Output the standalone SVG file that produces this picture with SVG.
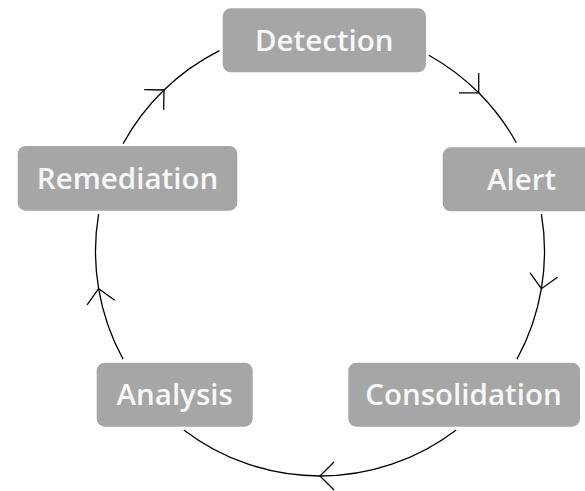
<svg xmlns="http://www.w3.org/2000/svg" width="585" height="491" viewBox="0 0 585 491">
<style>
.box{fill:#a6a6a6;}
.lbl{fill:#f7f7f7;font-family:"Open Sans","Noto Sans",sans-serif;font-weight:600;font-size:29.5px;text-anchor:middle;}
.conn{fill:none;stroke:#000;stroke-width:1.3;marker-mid:url(#arr);}
</style>
<defs>
<marker id="arr" markerUnits="userSpaceOnUse" orient="auto" markerWidth="40" markerHeight="40" refX="0" refY="0" overflow="visible">
<path d="M-14,-14 L0,0 L-14,14" fill="none" stroke="#000" stroke-width="1.3"/>
</marker>
</defs>
<g id="connectors">
<path class="conn" d="M428.8,55.2 A224.5,224.5 0 0 1 478.7,92.8 A224.5,224.5 0 0 1 516.3,142.7"/>
<path class="conn" d="M541.4,214.1 A224.5,224.5 0 0 1 541.4,288.7 A224.5,224.5 0 0 1 516.9,359.3"/>
<path class="conn" d="M456.2,429.9 A224.5,224.5 0 0 1 320,476 A224.5,224.5 0 0 1 183.8,429.9"/>
<path class="conn" d="M123.1,359.3 A224.5,224.5 0 0 1 98.6,288.7 A224.5,224.5 0 0 1 98.6,214.1"/>
<path class="conn" d="M123.1,143.7 A224.5,224.5 0 0 1 164,90 A224.5,224.5 0 0 1 219.5,50.7"/>
</g>
<g id="detection">
<rect class="box" x="222.7" y="8.3" width="203.3" height="64" rx="8"/>
<text class="lbl" x="324.3" y="50.5">Detection</text>
</g>
<g id="alert">
<rect class="box" x="442.7" y="147.3" width="158" height="64" rx="8"/>
<text class="lbl" x="521.5" y="189.5">Alert</text>
</g>
<g id="consolidation">
<rect class="box" x="348.3" y="362.7" width="231.7" height="64" rx="8"/>
<text class="lbl" x="463.5" y="405">Consolidation</text>
</g>
<g id="analysis">
<rect class="box" x="96.7" y="362.7" width="156" height="64" rx="8"/>
<text class="lbl" x="174.7" y="405">Analysis</text>
</g>
<g id="remediation">
<rect class="box" x="17.7" y="146" width="219.6" height="64.7" rx="8"/>
<text class="lbl" x="127.5" y="188.5">Remediation</text>
</g>
</svg>
